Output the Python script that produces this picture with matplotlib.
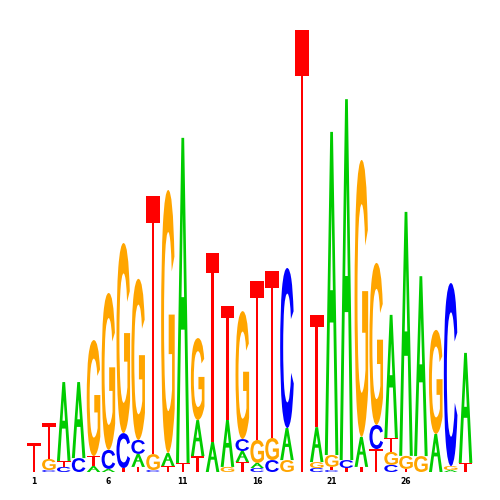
import matplotlib
matplotlib.use('Agg')
import matplotlib.pyplot as plt
from matplotlib.textpath import TextPath
from matplotlib.font_manager import FontProperties
from matplotlib.patches import PathPatch
from matplotlib.path import Path
from matplotlib.transforms import Affine2D

# information content (bits) per position, one list per base
positions = list(range(1, 31))
A_bits = [0, 0, 0.357, 0.344, 0.027, 0.014, 0, 0.059, 0, 0.059,
          1.471, 0.163, 0.136, 0.213, 0.050, 0.023, 0, 0.145, 0, 0.158,
          1.462, 1.633, 0.136, 0, 0.557, 1.104, 0.814, 0.172, 0.009, 0.498]
C_bits = [0, 0.009, 0.023, 0.063, 0, 0.086, 0.158, 0.063, 0.009, 0,
          0, 0, 0, 0, 0.054, 0.018, 0.054, 0.724, 0, 0.018,
          0.009, 0.036, 0, 0.109, 0.032, 0, 0, 0, 0.828, 0]
G_bits = [0, 0.050, 0, 0, 0.525, 0.710, 0.860, 0.729, 0.072, 1.190,
          0, 0.371, 0, 0.023, 0.579, 0.104, 0.100, 0.054, 0, 0.027,
          0.054, 0, 1.253, 0.733, 0.059, 0.059, 0.072, 0.471, 0.018, 0]
T_bits = [0.131, 0.163, 0.027, 0, 0.045, 0, 0.018, 0.023, 1.167, 0.027,
          0.041, 0.072, 0.855, 0.516, 0.045, 0.719, 0.756, 0, 2.0, 0.507,
          0.014, 0.018, 0.023, 0.104, 0.063, 0.014, 0, 0, 0, 0.041]
tick_positions = [1, 6, 11, 16, 21, 26]

colors = {'A': '#00CC00', 'C': '#0000FF', 'G': '#FFA500', 'T': '#FF0000'}

px_per_bit = 221.0
x_first, x_step = 34.0, 14.88
letter_w = 13.6


def polygons_to_path(polys):
    verts, codes = [], []
    for poly in polys:
        verts += poly + [poly[0]]
        codes += [Path.MOVETO] + [Path.LINETO] * (len(poly) - 1) + [Path.CLOSEPOLY]
    return Path(verts, codes)


# A and T as simple unit-box polygons, C and G from a bold sans font
a_path = polygons_to_path([
    [(0, 0), (0.4, 1), (0.6, 1), (1, 0), (0.78, 0), (0.631, 0.41),
     (0.369, 0.41), (0.22, 0)],
    [(0.405, 0.51), (0.595, 0.51), (0.5, 0.77)],
])
t_path = polygons_to_path([
    [(0, 1), (1, 1), (1, 0.895), (0.59, 0.895), (0.59, 0),
     (0.41, 0), (0.41, 0.895), (0, 0.895)],
])

fp = FontProperties(family='Liberation Sans', weight='bold')
glyphs = {'A': a_path, 'T': t_path}
for b in 'CG':
    glyphs[b] = TextPath((0, 0), b, size=1, prop=fp)


def draw_letter(ax, base, xc, y0, h):
    path = glyphs[base]
    ext = path.get_extents()
    tr = (Affine2D()
          .translate(-ext.x0, -ext.y0)
          .scale(letter_w / ext.width, h / ext.height)
          .translate(xc - letter_w / 2, y0))
    ax.add_patch(PathPatch(tr.transform_path(path), facecolor=colors[base],
                           edgecolor='none'))


fig = plt.figure(figsize=(5, 5), dpi=100)
ax = fig.add_axes([0, 0, 1, 1])
ax.set_xlim(0, 500)
ax.set_ylim(-28 / px_per_bit, 472 / px_per_bit)
ax.axis('off')

for i, pos in enumerate(positions):
    xc = x_first + (pos - 1) * x_step
    stack = [('A', A_bits[i]), ('C', C_bits[i]), ('G', G_bits[i]), ('T', T_bits[i])]
    stack = sorted([s for s in stack if s[1] > 0], key=lambda s: s[1])
    y = 0.0
    for base, h in stack:
        draw_letter(ax, base, xc, y, h)
        y += h

for pos in tick_positions:
    ax.text(x_first + (pos - 1) * x_step, -9 / px_per_bit, str(pos),
            ha='center', va='center', fontsize=5.5, fontweight='bold')

fig.savefig('out.png', dpi=100)
